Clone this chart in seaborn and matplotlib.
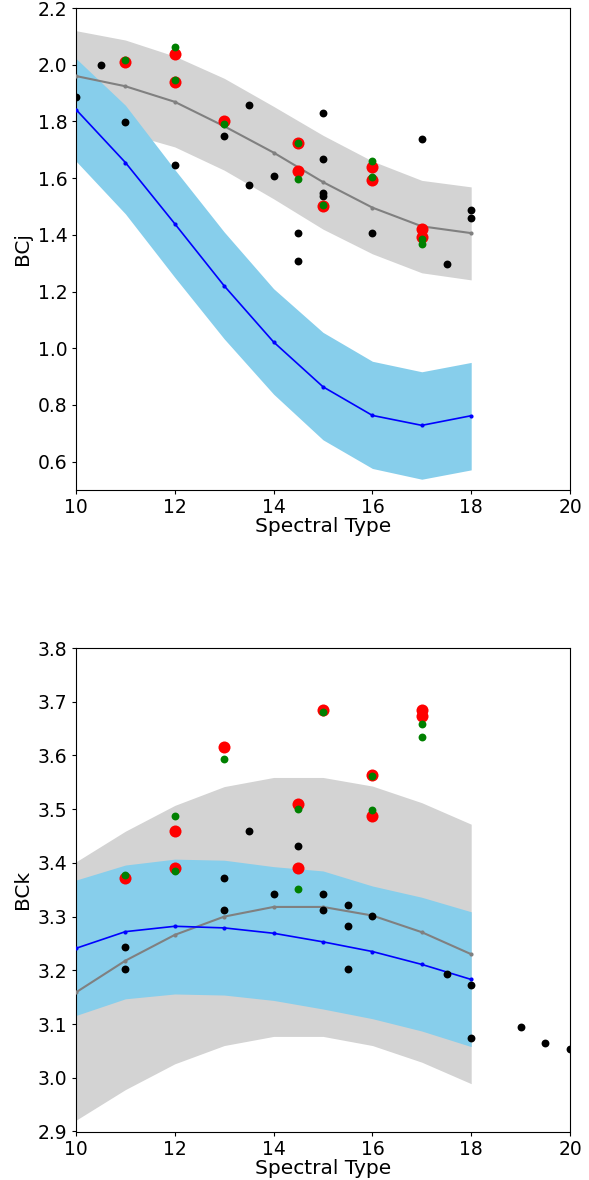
import numpy as np
import pandas as pd
import matplotlib
matplotlib.use("Agg")
import matplotlib.pyplot as plt
import seaborn as sns

# ---------------- data: top panel (BCj) ----------------
spt_grid = [10, 11, 12, 13, 14, 15, 16, 17, 18]

bcj_gray_line = [1.96, 1.924, 1.869, 1.783, 1.690, 1.586, 1.496, 1.430, 1.406]
bcj_gray_hi = [2.12, 2.087, 2.03, 1.952, 1.853, 1.751, 1.66, 1.592, 1.569]
bcj_gray_lo = [1.80, 1.76, 1.71, 1.628, 1.527, 1.42, 1.333, 1.266, 1.241]

bcj_blue_line = [1.842, 1.655, 1.439, 1.220, 1.022, 0.864, 0.763, 0.728, 0.762]
bcj_blue_hi = [2.022, 1.857, 1.63, 1.41, 1.21, 1.056, 0.954, 0.917, 0.950]
bcj_blue_lo = [1.66, 1.474, 1.25, 1.033, 0.838, 0.677, 0.576, 0.538, 0.571]

bcj_black_x = [10, 10.5, 11, 12, 13, 13.5, 13.5, 14, 14.5, 14.5, 15, 15, 15, 15,
               16, 17, 17.5, 18, 18]
bcj_black_y = [1.887, 2.0, 1.798, 1.648, 1.748, 1.857, 1.577, 1.607, 1.408, 1.308,
               1.828, 1.669, 1.547, 1.537, 1.407, 1.738, 1.298, 1.487, 1.458]

bcj_red_x = [11, 12, 12, 13, 14.5, 14.5, 15, 16, 16, 17, 17]
bcj_red_y = [2.010, 2.036, 1.940, 1.802, 1.723, 1.625, 1.501, 1.638, 1.595, 1.420, 1.394]

bcj_green_x = [11, 12, 12, 13, 14.5, 14.5, 15, 16, 16, 17, 17]
bcj_green_y = [2.016, 2.063, 1.945, 1.790, 1.723, 1.596, 1.505, 1.659, 1.603, 1.386, 1.366]

# ---------------- data: bottom panel (BCk) ----------------
bck_gray_line = [3.159, 3.218, 3.266, 3.300, 3.318, 3.318, 3.302, 3.271, 3.230]
bck_gray_hi = [3.402, 3.459, 3.507, 3.542, 3.559, 3.559, 3.543, 3.512, 3.472]
bck_gray_lo = [2.921, 2.978, 3.026, 3.060, 3.077, 3.077, 3.060, 3.029, 2.989]

bck_blue_line = [3.241, 3.272, 3.282, 3.279, 3.269, 3.253, 3.235, 3.211, 3.183]
bck_blue_hi = [3.368, 3.396, 3.407, 3.405, 3.393, 3.385, 3.357, 3.336, 3.309]
bck_blue_lo = [3.116, 3.147, 3.156, 3.154, 3.144, 3.128, 3.110, 3.087, 3.058]

bck_black_x = [11, 11, 13, 13, 13.5, 14, 14.5, 15, 15, 15.5, 15.5, 15.5, 16,
               17.5, 18, 18, 19, 19.5, 20]
bck_black_y = [3.243, 3.203, 3.371, 3.312, 3.460, 3.342, 3.431, 3.342, 3.312,
               3.322, 3.282, 3.203, 3.302, 3.193, 3.173, 3.074, 3.094, 3.064, 3.054]

bck_red_x = [11, 12, 12, 13, 14.5, 14.5, 15, 16, 16, 17, 17]
bck_red_y = [3.371, 3.459, 3.390, 3.615, 3.509, 3.391, 3.685, 3.563, 3.488, 3.684, 3.673]

bck_green_x = [11, 12, 12, 13, 14.5, 14.5, 15, 16, 16, 17, 17]
bck_green_y = [3.377, 3.487, 3.384, 3.594, 3.500, 3.352, 3.680, 3.561, 3.498, 3.658, 3.635]

x_ticks = [10, 12, 14, 16, 18, 20]

sns.set_style("ticks")
plt.rcParams["font.family"] = ["DejaVu Sans"]
plt.rcParams["axes.edgecolor"] = "black"
plt.rcParams["xtick.color"] = "black"
plt.rcParams["ytick.color"] = "black"
plt.rcParams["text.color"] = "black"
plt.rcParams["axes.labelcolor"] = "black"

fig = plt.figure(figsize=(5.89, 11.80), dpi=100)
W, H = 589.0, 1180.0
ax1 = fig.add_axes([76 / W, 1 - 490 / H, (570 - 76) / W, (490 - 8) / H])
ax2 = fig.add_axes([76 / W, 1 - 1131.5 / H, (570 - 76) / W, (1131.5 - 648) / H])


def panel(ax, gl, ghi, glo, bl, bhi, blo, kx, ky, rx, ry, gx, gy,
          ylim, yticks, ylabel):
    ax.fill_between(spt_grid, glo, ghi, color="lightgray", lw=0, zorder=1)
    ax.fill_between(spt_grid, blo, bhi, color="skyblue", lw=0, zorder=2)
    sns.lineplot(x=spt_grid, y=gl, ax=ax, color="gray", marker="o",
                 markersize=3, markeredgewidth=0, lw=1.5, zorder=3)
    sns.lineplot(x=spt_grid, y=bl, ax=ax, color="blue", marker="o",
                 markersize=3, markeredgewidth=0, lw=1.2, zorder=3)
    sns.scatterplot(x=kx, y=ky, ax=ax, color="black", s=32, linewidth=0, zorder=4)
    sns.scatterplot(x=rx, y=ry, ax=ax, color="red", s=75, linewidth=0, zorder=5)
    sns.scatterplot(x=gx, y=gy, ax=ax, color="green", s=32, linewidth=0, zorder=6)
    ax.set_xlim(10, 20)
    ax.set_ylim(*ylim)
    ax.set_xticks(x_ticks)
    ax.set_yticks(yticks)
    ax.set_yticklabels([f"{v:.1f}" for v in yticks])
    ax.set_xlabel("Spectral Type", fontsize=14.5, labelpad=0)
    ax.set_ylabel(ylabel, fontsize=14.5, labelpad=4)
    ax.tick_params(labelsize=13.5, direction="out", length=3, width=0.8, pad=3)
    for s in ax.spines.values():
        s.set_visible(True)
        s.set_linewidth(0.8)
        s.set_color("black")


panel(ax1, bcj_gray_line, bcj_gray_hi, bcj_gray_lo, bcj_blue_line, bcj_blue_hi,
      bcj_blue_lo, bcj_black_x, bcj_black_y, bcj_red_x, bcj_red_y, bcj_green_x,
      bcj_green_y, (0.5, 2.2), [0.6, 0.8, 1.0, 1.2, 1.4, 1.6, 1.8, 2.0, 2.2], "BCj")
panel(ax2, bck_gray_line, bck_gray_hi, bck_gray_lo, bck_blue_line, bck_blue_hi,
      bck_blue_lo, bck_black_x, bck_black_y, bck_red_x, bck_red_y, bck_green_x,
      bck_green_y, (2.9, 3.8),
      [2.9, 3.0, 3.1, 3.2, 3.3, 3.4, 3.5, 3.6, 3.7, 3.8], "BCk")

fig.savefig("out.png", dpi=100)
